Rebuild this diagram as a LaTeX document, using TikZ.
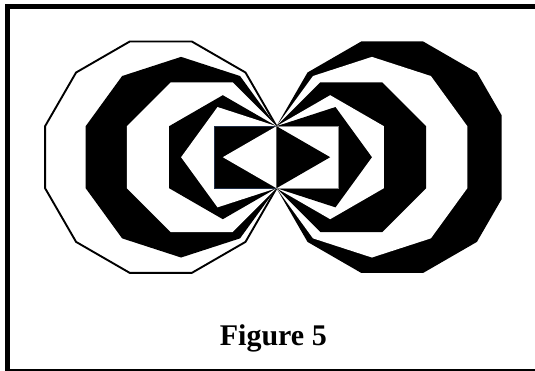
\documentclass[tikz,border=0pt]{standalone}
\usepackage{fontspec}
\setmainfont{Liberation Serif}
\def\sa{62}
\def\px{276.5}
\def\pcy{157.2}
\newcommand\regpoly[3]{%
  \pgfmathsetmacro\pR{\sa/(2*sin(180/#1))}%
  \pgfmathsetmacro\pcx{\px-(#2)*\sa/(2*tan(180/#1))}%
  \pgfmathsetmacro\pth{90-(#2)*90+180/#1}%
  \pgfmathtruncatemacro\pnm{#1-1}%
  \path[#3] ({\pcx+\pR*cos(\pth)},{\pcy+\pR*sin(\pth)})
    \foreach \k in {1,...,\pnm} { -- ({\pcx+\pR*cos(\pth+360*\k/#1)},{\pcy+\pR*sin(\pth+360*\k/#1)}) } -- cycle;%
}
\tikzset{
  blk/.style={fill=black},
  wht/.style={fill=white},
  outl/.style={fill=white,draw=black,line width=1.9pt},
  frame/.style={draw=black,line width=5pt},
  sqL/.style={fill=black,draw={rgb,255:red,30;green,45;blue,70},line width=0.7pt},
  sqR/.style={fill=white,draw=black!45,line width=0.7pt},
  captext/.style={font=\fontsize{30}{36}\selectfont\bfseries,inner sep=0pt,anchor=base}
}
\begin{document}
\begin{tikzpicture}[x=1pt,y=-1pt]
\useasboundingbox (0,0) rectangle (535,371);
\fill[white] (0,0) rectangle (535,371);
\draw[frame] (7.5,6.5) rectangle (545,371.8);
% left set
\regpoly{12}{1}{outl}
\regpoly{10}{1}{blk}
\regpoly{8}{1}{wht}
\regpoly{6}{1}{blk}
\regpoly{5}{1}{wht}
\regpoly{4}{1}{sqL}
\regpoly{3}{1}{wht}
% right set
\begin{scope}
\clip (0,0) rectangle (501.7,371);
\regpoly{12}{-1}{blk}
\end{scope}
\regpoly{10}{-1}{wht}
\regpoly{8}{-1}{blk}
\regpoly{6}{-1}{wht}
\regpoly{5}{-1}{blk}
\regpoly{4}{-1}{sqR}
\regpoly{3}{-1}{blk}
\node[captext] (caption) at (273.3,345) {Figure 5};
\end{tikzpicture}
\end{document}
